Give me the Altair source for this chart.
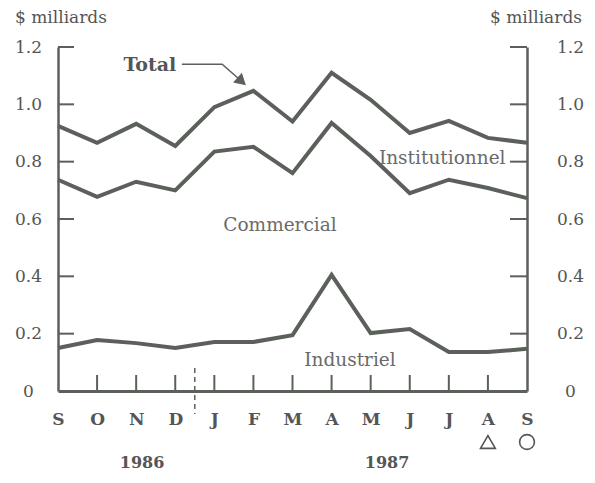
import altair as alt
import pandas as pd

months = ["S", "O", "N", "D", "J", "F", "M", "A", "M", "J", "J", "A", "S"]
total = [0.925, 0.866, 0.932, 0.855, 0.99, 1.047, 0.94, 1.11, 1.016, 0.90, 0.942, 0.883, 0.866]
ind_comm = [0.737, 0.677, 0.73, 0.70, 0.835, 0.852, 0.76, 0.935, 0.82, 0.69, 0.737, 0.708, 0.673]
industriel = [0.15, 0.178, 0.167, 0.15, 0.171, 0.171, 0.195, 0.405, 0.202, 0.216, 0.136, 0.136, 0.147]
y_ticks = [0, 0.2, 0.4, 0.6, 0.8, 1.0, 1.2]
years = ["1986", "1987"]
year_pos = [2.15, 8.42]

INK = "#5b605b"
TXT = "#555555"
FONT = "DejaVu Serif"

rows = []
for name, vals in [("Total", total), ("Industriel + Commercial", ind_comm), ("Industriel", industriel)]:
    for i, v in enumerate(vals):
        rows.append({"m": i, "v": v, "s": name})
df = pd.DataFrame(rows)
tick_df = pd.DataFrame({"v": y_ticks[1:]})
xt_df = pd.DataFrame({"m": list(range(1, len(months) - 1))})

W, H = 469, 344
xs = alt.Scale(domain=[0, len(months) - 1], nice=False, zero=False)
ys = alt.Scale(domain=[0, 1.2], nice=False)

label_expr = "[" + ",".join("'%s'" % m for m in months) + "][datum.value]"

lines = alt.Chart(df).mark_line(color=INK, strokeWidth=4).encode(
    x=alt.X("m:Q", scale=xs, axis=None),
    y=alt.Y("v:Q", scale=ys, axis=None),
    detail="s:N",
)

ylab = "datum.value == 0 ? '0' : format(datum.value, '.1f')"
left_ticks = alt.Chart(tick_df).mark_rule(color=INK, strokeWidth=2).encode(
    y=alt.Y("v:Q", scale=ys, axis=alt.Axis(orient="left", values=y_ticks, labelExpr=ylab, ticks=False,
                                           grid=False, domainColor=INK, domainWidth=2.5, labelPadding=30,
                                           labelAlign="center", labelFont=FONT, labelFontSize=17,
                                           labelColor=TXT, title=None)),
    x=alt.value(0), x2=alt.value(16),
)
right_ticks = alt.Chart(tick_df).mark_rule(color=INK, strokeWidth=2).encode(
    y=alt.Y("v:Q", scale=ys, axis=alt.Axis(orient="right", values=y_ticks, labelExpr=ylab, ticks=False,
                                           grid=False, domainColor=INK, domainWidth=2.5, labelPadding=43,
                                           labelAlign="center", labelFont=FONT, labelFontSize=17,
                                           labelColor=TXT, title=None)),
    x=alt.value(W - 17), x2=alt.value(W),
)
x_ticks = alt.Chart(xt_df).mark_rule(color=INK, strokeWidth=2).encode(
    x=alt.X("m:Q", scale=xs, axis=alt.Axis(orient="bottom", values=list(range(len(months))), labelExpr=label_expr,
                                           ticks=False, grid=False, domainColor=INK, domainWidth=3,
                                           labelPadding=20, labelFont=FONT, labelFontSize=17,
                                           labelFontWeight="bold", labelColor=TXT, title=None,
                                           labelFlush=False)),
    y=alt.value(H), y2=alt.value(H - 16),
)
dash = alt.Chart(pd.DataFrame({"m": [3.5]})).mark_rule(color=INK, strokeWidth=1.5, strokeDash=[5, 4]).encode(
    x=alt.X("m:Q", scale=xs, axis=None), y=alt.value(321), y2=alt.value(367),
)

# annotations
total_lbl = alt.Chart(pd.DataFrame({"m": [2.35], "v": [1.137], "t": ["Total"]})).mark_text(
    font=FONT, fontSize=19, fontWeight="bold", color=TXT).encode(
    x=alt.X("m:Q", scale=xs, axis=None), y=alt.Y("v:Q", scale=ys, axis=None), text="t:N")
area_lbl = alt.Chart(pd.DataFrame({"m": [9.83, 5.68, 7.47], "v": [0.813, 0.579, 0.108],
                                   "t": ["Institutionnel", "Commercial", "Industriel"]})).mark_text(
    font=FONT, fontSize=18.5, color="#6a6a6a").encode(
    x=alt.X("m:Q", scale=xs, axis=None), y=alt.Y("v:Q", scale=ys, axis=None), text="t:N")
arrow = alt.Chart(pd.DataFrame({"m": [3.17, 4.2, 4.66], "v": [1.14, 1.14, 1.085], "o": [0, 1, 2]})).mark_line(
    color=INK, strokeWidth=1.5).encode(
    x=alt.X("m:Q", scale=xs, axis=None), y=alt.Y("v:Q", scale=ys, axis=None), order="o:Q")
head = alt.Chart(pd.DataFrame({"m": [4.7], "v": [1.08]})).mark_point(
    shape="triangle-up", filled=True, color=INK, opacity=1, size=170, angle=132).encode(
    x=alt.X("m:Q", scale=xs, axis=None), y=alt.Y("v:Q", scale=ys, axis=None))

syms = alt.Chart(pd.DataFrame({"m": [11, 12], "sh": ["triangle-up", "circle"]})).mark_point(
    filled=False, color=TXT, strokeWidth=1.6, size=220, opacity=1).encode(
    x=alt.X("m:Q", scale=xs, axis=None), y=alt.value(395), shape=alt.Shape("sh:N", scale=None))
yr = alt.Chart(pd.DataFrame({"m": year_pos, "t": years})).mark_text(
    font=FONT, fontSize=16, fontWeight="bold", color=TXT, baseline="alphabetic").encode(
    x=alt.X("m:Q", scale=xs, axis=None), y=alt.value(421), text="t:N")
unit_l = alt.Chart(pd.DataFrame({"t": ["$ milliards"]})).mark_text(
    font=FONT, fontSize=17, color=TXT, align="left").encode(
    x=alt.value(-43), y=alt.value(-29), text="t:N")
unit_r = alt.Chart(pd.DataFrame({"t": ["$ milliards"]})).mark_text(
    font=FONT, fontSize=17, color=TXT, align="right").encode(
    x=alt.value(W + 55), y=alt.value(-29), text="t:N")

chart = alt.layer(
    lines, left_ticks, right_ticks, x_ticks, dash, total_lbl, area_lbl, arrow, head, syms, yr, unit_l, unit_r
).resolve_axis(y="independent", x="independent").properties(
    width=W, height=H,
    padding={"left": 50, "top": 39, "right": 60, "bottom": 84},
    autosize=alt.AutoSizeParams(type="none"),
    background="white",
).configure_view(stroke=None)

chart.save("out.html", embed_options={"renderer": "svg", "actions": False})
